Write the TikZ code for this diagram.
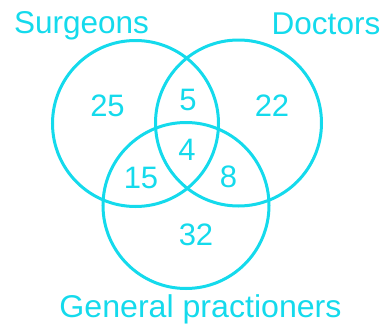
\documentclass[tikz,border=0pt]{standalone}
\usepackage{fontspec}
\setmainfont{Liberation Sans}
\definecolor{venncyan}{RGB}{20,218,236}
\begin{document}
\begin{tikzpicture}[x=1pt, y=-1pt,
    set/.style={draw=venncyan, line width=3pt, circle, minimum size=166pt, inner sep=0pt},
    count/.style={text=venncyan, font=\fontsize{31}{31}\selectfont},
    title/.style={text=venncyan, font=\fontsize{31.5}{31.5}\selectfont, anchor=base, inner sep=0pt}]
    \useasboundingbox (0,0) rectangle (384,327);
    \node (surgeons) [set] at (135.5,123.5) {};
    \node (doctors) [set] at (238.5,123) {};
    \node (general) [set] at (186,205.5) {};
    \node (surgeonslabel) [title] at (81.5,33.3) {Surgeons};
    \node (doctorslabel) [title] at (326,34) {Doctors};
    \node (generallabel) [title, xscale=1.02] at (200.5,317.3) {General practioners};
    \node (onlyS) [count] at (107.5,106) {25};
    \node (SD) [count] at (188,100) {5};
    \node (onlyD) [count] at (272,106) {22};
    \node (SDG) [count] at (187,150) {4};
    \node (SG) [count] at (141,178) {15};
    \node (DG) [count] at (228.5,177) {8};
    \node (onlyG) [count] at (196,235) {32};
\end{tikzpicture}
\end{document}
